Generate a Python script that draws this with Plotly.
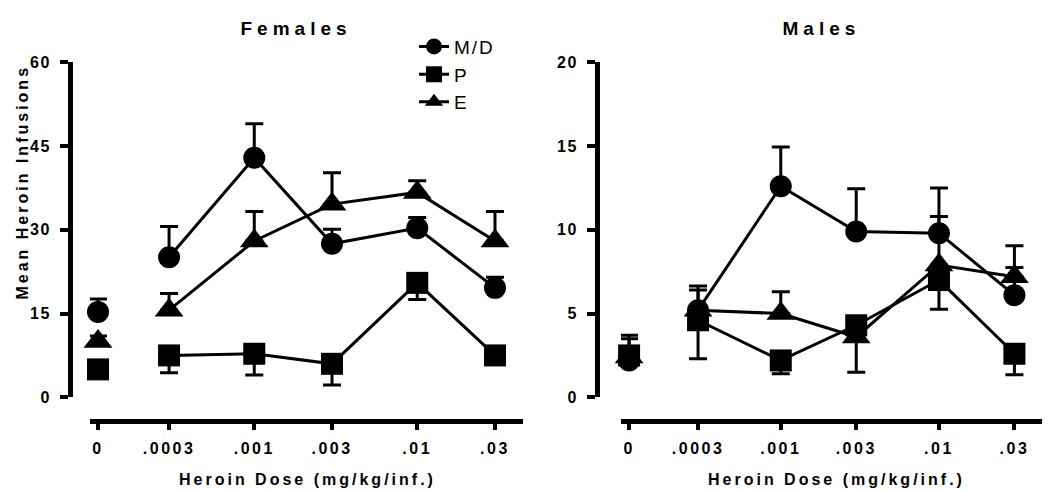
import math
import plotly.graph_objects as go

# ---------------- data ----------------
dose_labels = ["0", ".0003", ".001", ".003", ".01", ".03"]
doses = [0.0, 0.0003, 0.001, 0.003, 0.01, 0.03]

fem_md = [15.3, 25.1, 42.9, 27.5, 30.3, 19.6]
fem_md_err = [2.3, 5.5, 6.1, 2.6, 1.9, 1.9]
fem_p = [5.0, 7.5, 7.8, 6.0, 20.5, 7.5]
fem_p_err = [0.8, 3.1, 3.8, 3.8, 3.0, 1.0]
fem_e = [10.0, 15.6, 28.0, 34.6, 36.7, 28.0]
fem_e_err = [1.0, 3.0, 5.3, 5.6, 2.1, 5.3]

mal_md = [2.2, 5.2, 12.6, 9.9, 9.8, 6.1]
mal_md_err = [1.3, 1.45, 2.35, 2.55, 2.7, 1.65]
mal_p = [2.5, 4.6, 2.2, 4.3, 7.0, 2.6]
mal_p_err = [0.3, 2.3, 0.8, 2.8, 1.75, 1.25]
mal_e = [2.4, 5.2, 5.0, 3.6, 7.9, 7.2]
mal_e_err = [1.3, 1.2, 1.3, 0.4, 2.9, 1.85]

fem_yticks = [0, 15, 30, 45, 60]
mal_yticks = [0, 5, 10, 15, 20]

# ---------------- layout helpers ----------------
W, H = 1050, 490
CONTROL_OFFSET = 0.436  # decades left of the lowest dose where the vehicle (0) point sits
FONT = "Liberation Sans, Arial, sans-serif"


def xpos(d):
    lowest = min(v for v in doses if v > 0)
    if d == 0:
        return math.log10(lowest) - CONTROL_OFFSET
    return math.log10(d)


xp = [xpos(d) for d in doses]

fig = go.Figure()

styles = {
    "M/D": dict(symbol="circle", size=22, up=True, rank=1),
    "P": dict(symbol="square", size=22, up=False, rank=2),
    "E": dict(symbol="triangle-up", size=25, up=True, rank=3),
}


def add_series(name, vals, errs, xa, ya, legend):
    st = styles[name]
    zeros = [0] * len(errs)
    up = errs if st["up"] else zeros
    down = zeros if st["up"] else errs

    def ey(s):
        return dict(type="data", symmetric=False, array=up[s], arrayminus=down[s],
                    color="black", thickness=3, width=9)

    marker = dict(symbol=st["symbol"], size=st["size"], color="black",
                  line=dict(width=0))
    # dose-response line
    fig.add_trace(go.Scatter(
        x=xp[1:], y=vals[1:], mode="lines+markers", name=name,
        line=dict(color="black", width=3), marker=marker,
        error_y=ey(slice(1, None)), xaxis=xa, yaxis=ya,
        showlegend=legend, legendgroup=name, legendrank=st["rank"],
        cliponaxis=False,
    ))
    # vehicle point
    fig.add_trace(go.Scatter(
        x=xp[:1], y=vals[:1], mode="markers", name=name,
        marker=marker, error_y=ey(slice(0, 1)), xaxis=xa, yaxis=ya,
        showlegend=False, legendgroup=name, legendrank=st["rank"],
        cliponaxis=False,
    ))


# draw order: M/D, E, P (squares on top)
add_series("M/D", fem_md, fem_md_err, "x", "y", True)
add_series("E", fem_e, fem_e_err, "x", "y", True)
add_series("P", fem_p, fem_p_err, "x", "y", True)
add_series("M/D", mal_md, mal_md_err, "x2", "y2", False)
add_series("E", mal_e, mal_e_err, "x2", "y2", False)
add_series("P", mal_p, mal_p_err, "x2", "y2", False)


def px_x(p):
    return p / W


def px_y(p):
    return 1 - p / H


ydom = [px_y(395), px_y(48)]
tick_font_x = dict(family=FONT, size=16, color="black", weight="bold")
tick_font_y = dict(family=FONT, size=16, color="black", weight="bold")

xcommon = dict(
    anchor="free", position=px_y(420), showgrid=False, zeroline=False,
    showline=True, linewidth=5, linecolor="black",
    ticks="outside", ticklen=6, tickwidth=4, tickcolor="black",
    tickvals=xp, ticktext=dose_labels, tickfont=tick_font_x,
    ticklabelstandoff=4,
)
ycommon = dict(
    anchor="free", domain=ydom, showgrid=False, zeroline=False,
    showline=True, linewidth=5, linecolor="black",
    ticks="outside", ticklen=8, tickwidth=4, tickcolor="black",
    tickfont=tick_font_y, ticklabelstandoff=6,
)

fig.update_layout(
    width=W, height=H,
    margin=dict(l=0, r=0, t=0, b=0),
    paper_bgcolor="white", plot_bgcolor="white",
    xaxis=dict(domain=[px_x(82), px_x(515)], range=[-4.008, -1.351], **xcommon),
    xaxis2=dict(domain=[px_x(613), px_x(1045)], range=[-4.01, -1.279], **xcommon),
    yaxis=dict(position=px_x(62), range=[0, 60], tickvals=fem_yticks, **ycommon),
    yaxis2=dict(position=px_x(589), range=[0, 20], tickvals=mal_yticks, **ycommon),
    legend=dict(
        x=px_x(406), y=px_y(12), xanchor="left", yanchor="top",
        bgcolor="rgba(0,0,0,0)", traceorder="grouped", tracegroupgap=0,
        itemwidth=30,
        font=dict(family=FONT, size=19, color="black"),
    ),
    showlegend=True,
)

title_font = dict(family=FONT, size=19, color="black", weight="bold")
label_font = dict(family=FONT, size=16, color="black", weight="bold")
annos = [
    dict(text="Females", x=px_x(288), y=px_y(13), font=title_font),
    dict(text="Males", x=px_x(813), y=px_y(13), font=title_font),
    dict(text="Heroin Dose (mg/kg/inf.)", x=px_x(299), y=px_y(480), font=label_font),
    dict(text="Heroin Dose (mg/kg/inf.)", x=px_x(828), y=px_y(480), font=label_font),
    dict(text="Mean Heroin Infusions", x=px_x(14), y=px_y(172), font=label_font,
         textangle=-90),
]
for a in annos:
    fig.add_annotation(xref="paper", yref="paper", xanchor="center", yanchor="middle",
                       showarrow=False, **a)

post = """
var gd = document.getElementById('{plot_id}');
function spacing(){
  gd.querySelectorAll('.xtick text, .x2tick text').forEach(function(t){t.style.letterSpacing='2.5px';});
  gd.querySelectorAll('.ytick text, .y2tick text').forEach(function(t){t.style.letterSpacing='1.5px';});
  gd.querySelectorAll('text.annotation-text').forEach(function(t){
    var s = t.textContent;
    t.style.letterSpacing = (s==='Females' || s==='Males') ? '5px' : '3px';
  });
  gd.querySelectorAll('text.legendtext').forEach(function(t){t.style.letterSpacing='2px';});
}
spacing();
gd.on('plotly_afterplot', spacing);
"""

fig.write_html("out.html", post_script=post, config={"displayModeBar": False})
